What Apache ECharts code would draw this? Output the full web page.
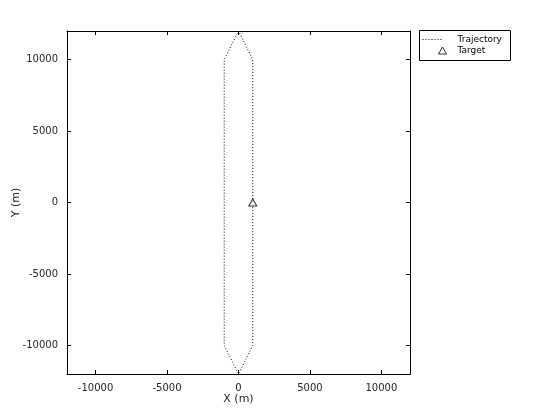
<!DOCTYPE html>
<html>
<head>
<meta charset="utf-8">
<script src="https://cdn.jsdelivr.net/npm/echarts@6/dist/echarts.min.js"></script>
<style>html,body{margin:0;padding:0;background:#fff;}#c{width:560px;height:420px;}</style>
</head>
<body>
<div id="c"></div>
<script>
var trajX = [0, -1000, -1000, 0, 1000, 1000, 0];
var trajY = [12000, 10000, -10000, -12000, -10000, 10000, 12000];
var targetX = [1000];
var targetY = [0];
var xTicks = [-10000, -5000, 0, 5000, 10000];
var yTicks = [-10000, -5000, 0, 5000, 10000];
var seriesNames = ['Trajectory', 'Target'];

var chart = echarts.init(document.getElementById('c'), null, {renderer: 'canvas'});
var FONT = 'DejaVu Sans';
var TXT = '#262626';
function axis(pos, showLabel, name) {
  var vert = (pos === 'left' || pos === 'right');
  return {
    type: 'value', position: pos, min: -12000, max: 12000,
    name: name || '', nameLocation: 'middle',
    nameGap: pos === 'left' ? 45 : 20,
    nameMoveOverlap: false,
    nameRotate: pos === 'left' ? 90 : 0,
    nameTextStyle: {fontFamily: FONT, fontSize: 11, color: TXT},
    splitLine: {show: false},
    axisLine: {show: true, onZero: false, lineStyle: {color: '#000', width: 1}},
    axisTick: {show: true, inside: true, length: 4, customValues: vert ? yTicks : xTicks, lineStyle: {color: '#000'}},
    axisLabel: {show: showLabel, customValues: vert ? yTicks : xTicks, fontFamily: FONT, fontSize: 10, color: TXT, margin: 9,
      formatter: function (v) { return String(v); }}
  };
}
var traj = trajX.map(function (x, i) { return [x, trajY[i]]; });
var tgt = targetX.map(function (x, i) { return [x, targetY[i]]; });
chart.setOption({
  animation: false,
  backgroundColor: '#fff',
  grid: {left: 67, right: 150, top: 31, bottom: 46, containLabel: false, outerBoundsMode: 'none'},
  xAxis: [axis('bottom', true, 'X (m)'), axis('top', false)],
  yAxis: [axis('left', true, 'Y (m)'), axis('right', false)],
  graphic: [{type: 'rect', shape: {x: 419.5, y: 30.5, width: 91, height: 30}, style: {fill: '#fff', stroke: '#000', lineWidth: 1}, z: 0}],
  legend: [
    {data: [seriesNames[0]], left: 422, top: 35, itemWidth: 20, itemHeight: 8, padding: 0,
     itemStyle: {opacity: 0}, lineStyle: {width: 1, type: [1, 2], color: '#000'},
     textStyle: {fontFamily: FONT, fontSize: 9, color: '#000', padding: [0, 0, 0, 10]}},
    {data: [seriesNames[1]], left: 438, top: 46, itemWidth: 8, itemHeight: 7, padding: 0,
     itemStyle: {color: '#fff', borderColor: '#000', borderWidth: 1},
     textStyle: {fontFamily: FONT, fontSize: 9, color: '#000', padding: [0, 0, 0, 6]}}
  ],
  series: [
    {name: seriesNames[0], type: 'line', data: traj, showSymbol: false, symbol: 'none',
     lineStyle: {color: '#000', width: 1, type: [1, 2]}, itemStyle: {color: '#000'}, z: 2},
    {name: seriesNames[1], type: 'scatter', data: tgt, symbol: 'triangle', symbolSize: [8, 7],
     itemStyle: {color: '#fff', borderColor: '#000', borderWidth: 1}, z: 3}
  ]
});
</script>
</body>
</html>
